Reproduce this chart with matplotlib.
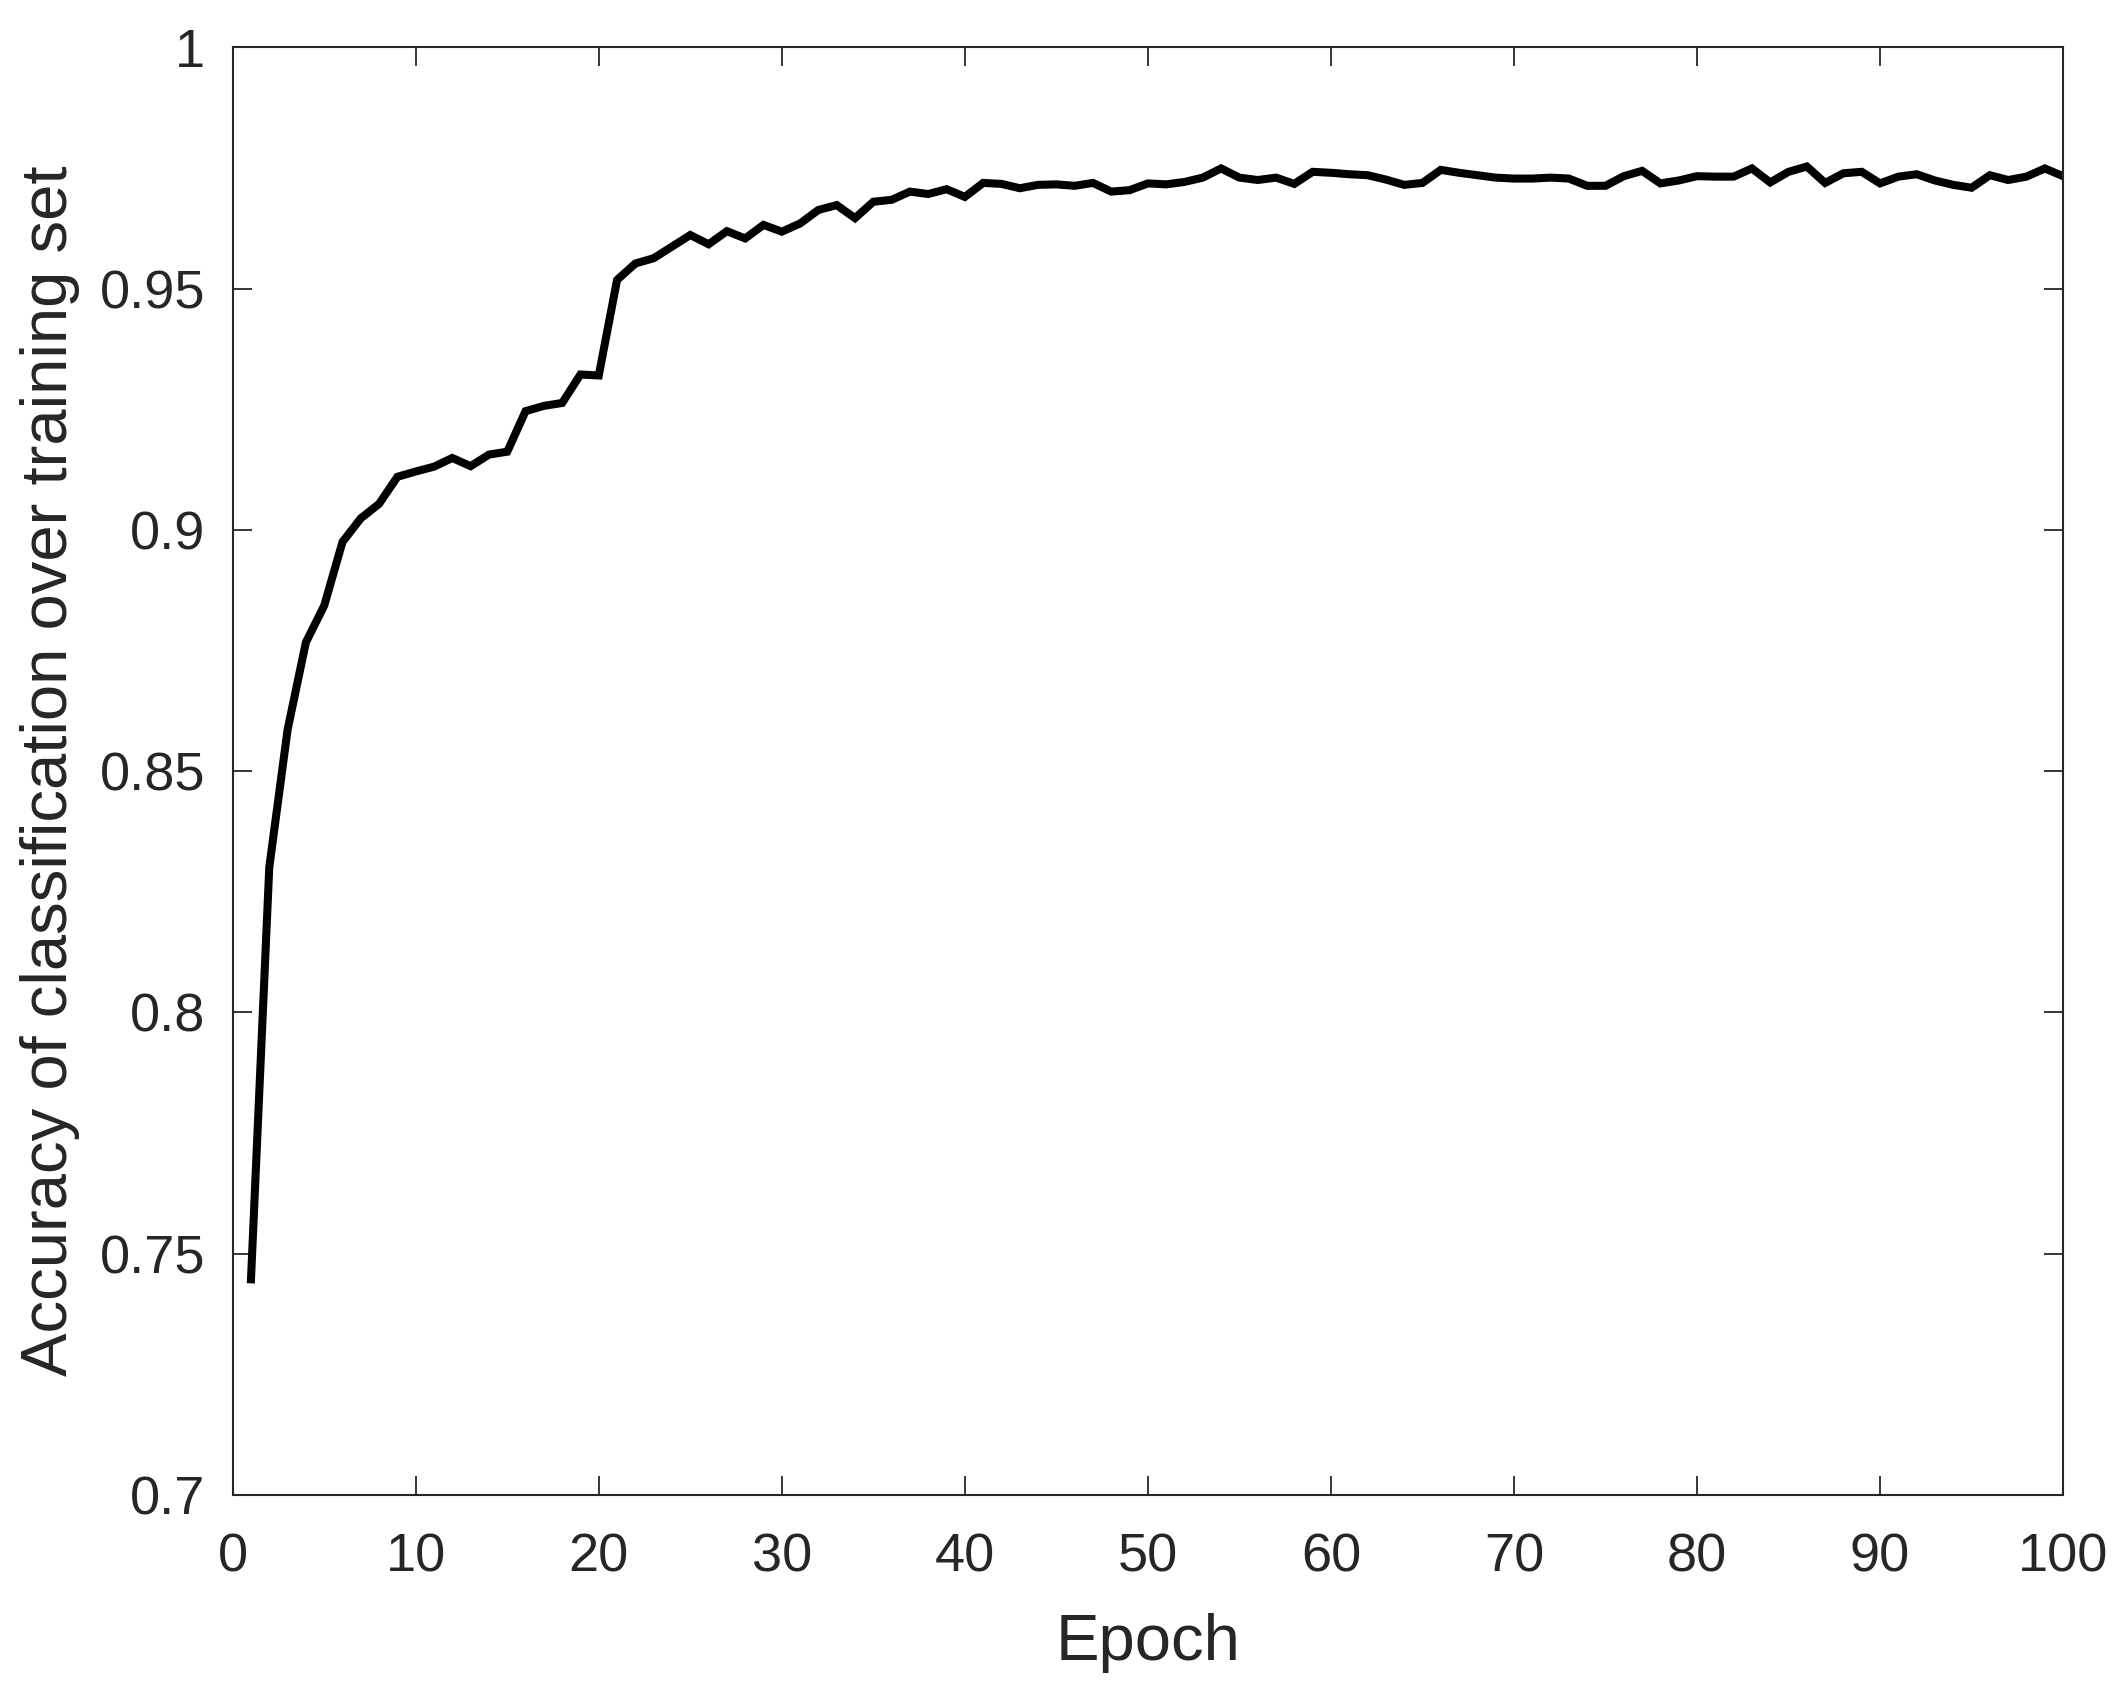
import matplotlib
matplotlib.use("Agg")
import matplotlib.pyplot as plt
from matplotlib.ticker import FormatStrFormatter

matplotlib.rcParams["font.family"] = ["Liberation Sans", "DejaVu Sans"]

# training accuracy per epoch
epochs = list(range(1, 101))
accuracy = [
    0.7447, 0.8301, 0.8586, 0.8767, 0.8843, 0.8975, 0.9024, 0.9054, 0.9110, 0.9121,
    0.9131, 0.9149, 0.9132, 0.9156, 0.9162, 0.9246, 0.9257, 0.9263, 0.9322, 0.9320,
    0.9518, 0.9552, 0.9563, 0.9587, 0.9611, 0.9592, 0.9619, 0.9604, 0.9632, 0.9618,
    0.9635, 0.9663, 0.9673, 0.9646, 0.9680, 0.9684, 0.9701, 0.9696, 0.9706, 0.9690,
    0.9719, 0.9717, 0.9708, 0.9715, 0.9716, 0.9713, 0.9719, 0.9701, 0.9704, 0.9718,
    0.9716, 0.9721, 0.9730, 0.9749, 0.9730, 0.9725, 0.9730, 0.9717, 0.9742, 0.9740,
    0.9737, 0.9735, 0.9726, 0.9715, 0.9719, 0.9746, 0.9740, 0.9735, 0.9730, 0.9728,
    0.9728, 0.9730, 0.9728, 0.9713, 0.9713, 0.9733, 0.9744, 0.9718, 0.9724, 0.9733,
    0.9732, 0.9732, 0.9749, 0.9720, 0.9742, 0.9753, 0.9719, 0.9739, 0.9742, 0.9718,
    0.9732, 0.9737, 0.9724, 0.9715, 0.9709, 0.9735, 0.9725, 0.9732, 0.9749, 0.9733,
]
x_ticks = [0, 10, 20, 30, 40, 50, 60, 70, 80, 90, 100]
y_ticks = [0.7, 0.75, 0.8, 0.85, 0.9, 0.95, 1.0]

INK = "#262626"

fig = plt.figure(figsize=(21.21, 16.96), dpi=100)
ax = fig.add_axes([0.1097, 0.1185, 0.8630, 0.8536])

ax.plot(epochs, accuracy, color="black", lw=5.8, solid_joinstyle="miter")

ax.set_xlim(0, 100)
ax.set_ylim(0.7, 1.0)
ax.set_xticks(x_ticks)
ax.set_yticks(y_ticks)
ax.yaxis.set_major_formatter(FormatStrFormatter("%g"))

ax.tick_params(direction="in", length=14, width=1.3, colors=INK,
               labelsize=39, top=True, right=True)
ax.tick_params(axis="x", pad=27)
ax.tick_params(axis="y", pad=20)
for s in ax.spines.values():
    s.set_linewidth(1.5)
    s.set_color(INK)

ax.set_xlabel("Epoch", fontsize=47, color=INK, labelpad=22)
ax.set_ylabel("Accuracy of classification over training set", fontsize=47,
              color=INK, labelpad=14)

fig.savefig("out.png", dpi=100)
